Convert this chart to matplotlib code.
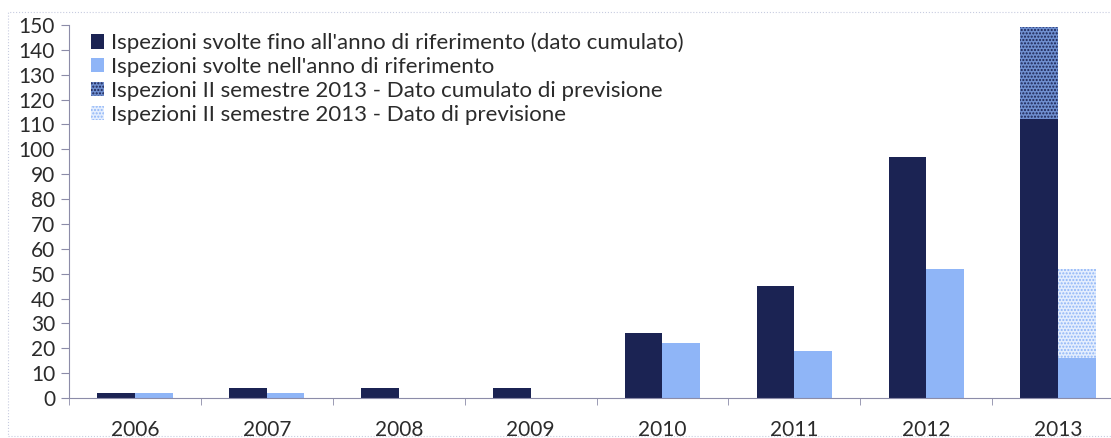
import matplotlib.pyplot as plt
import matplotlib.patches as mpatches
import numpy as np

anni = ['2006', '2007', '2008', '2009', '2010', '2011', '2012', '2013']
cumulato = [2, 4, 4, 4, 26, 45, 97, 112]
annuale = [2, 2, 0, 0, 22, 19, 52, 16]
prev_cumulato = [0, 0, 0, 0, 0, 0, 0, 37]
prev_annuale = [0, 0, 0, 0, 0, 0, 0, 36]

etichette = ["Ispezioni svolte fino all'anno di riferimento (dato cumulato)",
             "Ispezioni svolte nell'anno di riferimento",
             "Ispezioni II semestre 2013 - Dato cumulato di previsione",
             "Ispezioni II semestre 2013 - Dato di previsione"]

plt.rcParams['font.family'] = ['Lato', 'DejaVu Sans']
plt.rcParams['hatch.linewidth'] = 1.0

scuro = '#1b2353'
chiaro = '#8fb5f7'

fig = plt.figure(figsize=(11.11, 4.38), dpi=100)
ax = fig.add_axes([69/1111, 1 - 398/438, (1124 - 69)/1111, (398 - 25)/438])

x = np.arange(len(anni))
w = 0.285
ax.bar(x - w/2, cumulato, w, color=scuro, label=etichette[0])
ax.bar(x + w/2, annuale, w, color=chiaro, label=etichette[1])
ax.bar(x - w/2, prev_cumulato, w, bottom=cumulato, facecolor='#6f8fd0',
       edgecolor=scuro, hatch='.....', linewidth=0, label=etichette[2])
ax.bar(x + w/2, prev_annuale, w, bottom=annuale, facecolor='#e4eefe',
       edgecolor='#8fb5f7', hatch='.....', linewidth=0, label=etichette[3])

ax.set_xlim(-0.5, 7.5)
ax.set_ylim(0, 150)
ax.set_yticks(range(0, 151, 10))
ax.set_xticks(x)
ax.set_xticklabels(anni)
ax.set_xticks(np.arange(-0.5, 8, 1), minor=True)
ax.tick_params(axis='x', which='major', length=0, pad=16, labelsize=15, labelcolor='#2b2b2b')
ax.tick_params(axis='x', which='minor', length=5, color='#8c8ca8', direction='out')
ax.tick_params(axis='y', length=6, color='#8c8ca8', labelsize=15, labelcolor='#2b2b2b', pad=4)

for s in ['top', 'right']:
    ax.spines[s].set_visible(False)
for s in ['left', 'bottom']:
    ax.spines[s].set_color('#8c8ca8')

leg = ax.legend(loc='upper left', bbox_to_anchor=(0.008, 1.015), frameon=False,
                fontsize=16, handlelength=0.6, handleheight=0.6,
                handletextpad=0.3, labelspacing=0.17, borderaxespad=0.2)
for t in leg.get_texts():
    t.set_color('#2b2b2b')

fig.patches.append(mpatches.Rectangle((8/1111, 0.005), 1.0, 1 - 12/438 - 0.005,
                                      transform=fig.transFigure, fill=False,
                                      edgecolor='#c8cce0', linewidth=0.8, linestyle=':'))

fig.savefig('out.png', dpi=100)
